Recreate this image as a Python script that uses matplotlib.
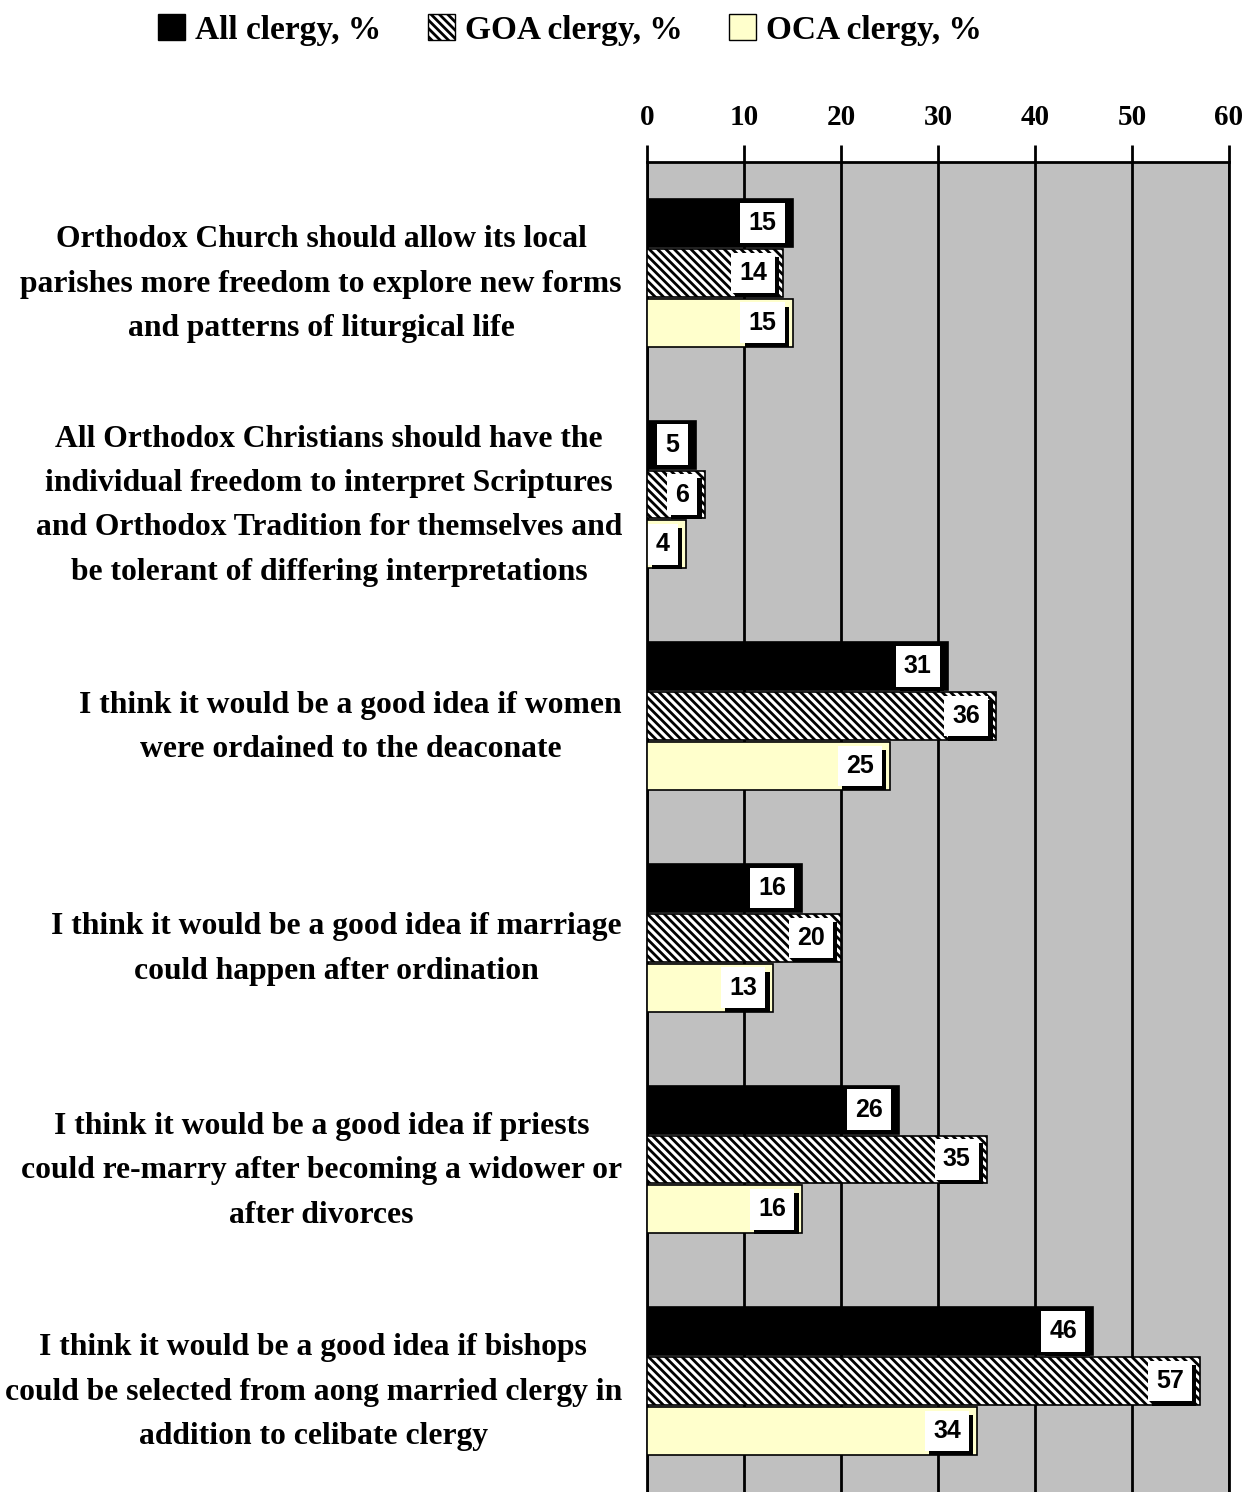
import numpy as np
import matplotlib
matplotlib.use('Agg')
import matplotlib.pyplot as plt
import matplotlib.patheffects as pe
from matplotlib.patches import Patch

categories = [
    "Orthodox Church should allow its local\nparishes more freedom to explore new forms\nand patterns of liturgical life",
    "All Orthodox Christians should have the\nindividual freedom to interpret Scriptures\nand Orthodox Tradition for themselves and\nbe tolerant of differing interpretations",
    "I think it would be a good idea if women\nwere ordained to the deaconate",
    "I think it would be a good idea if marriage\ncould happen after ordination",
    "I think it would be a good idea if priests\ncould re-marry after becoming a widower or\nafter divorces",
    "I think it would be a good idea if bishops\ncould be selected from aong married clergy in\naddition to celibate clergy",
]
all_clergy = [15, 5, 31, 16, 26, 46]
goa_clergy = [14, 6, 36, 20, 35, 57]
oca_clergy = [15, 4, 25, 13, 16, 34]
series_names = ["All clergy, %", "GOA clergy, %", "OCA clergy, %"]
xticks = [0, 10, 20, 30, 40, 50, 60]

serif = ['Liberation Serif', 'DejaVu Serif']
plt.rcParams['hatch.linewidth'] = 2.0

W, H = 1248, 1492
fig = plt.figure(figsize=(W / 100, H / 100), dpi=100)
ax = fig.add_axes([647 / W, 0, (1229 - 647) / W, (H - 162) / H])
ax.set_facecolor('#c0c0c0')

y = np.arange(len(categories))
bh = 0.216
off = 0.225
styles = [
    dict(color='black', edgecolor='black'),
    dict(color='white', edgecolor='black', hatch='\\\\\\\\'),
    dict(color='#ffffcc', edgecolor='black'),
]
for i, vals in enumerate([all_clergy, goa_clergy, oca_clergy]):
    ax.barh(y + (i - 1) * off, vals, height=bh, linewidth=1.2, zorder=3, **styles[i])
    for yy, v in zip(y + (i - 1) * off, vals):
        t = ax.annotate(str(v), xy=(v, yy), xytext=(-16, 0), textcoords='offset pixels',
                        ha='right', va='center', fontsize=18, fontweight='bold',
                        family='Liberation Sans', zorder=5,
                        bbox=dict(boxstyle='square,pad=0.33', fc='white', ec='none'))
        t.get_bbox_patch().set_path_effects([
            pe.SimplePatchShadow(offset=(3, -3), shadow_rgbFace='black', alpha=1),
            pe.Normal()])

ax.set_xlim(0, 60)
ax.set_ylim(5.5, -0.5)
ax.xaxis.tick_top()
ax.set_xticks(xticks)
ax.set_xticklabels([str(t) for t in xticks], fontsize=21, fontweight='bold', family=serif)
ax.tick_params(axis='x', direction='out', length=12, width=2, pad=10)
ax.grid(axis='x', color='black', linewidth=2, zorder=1)
ax.set_axisbelow(True)

ax.set_yticks(y)
ax.set_yticklabels(categories, fontsize=22.8, fontweight='bold', family=serif, linespacing=1.7)
for lab in ax.get_yticklabels():
    lab.set_multialignment('center')
ax.tick_params(axis='y', length=0, pad=18)

for s in ['top', 'left', 'right']:
    ax.spines[s].set_linewidth(2)
ax.spines['bottom'].set_visible(False)

handles = [Patch(facecolor=s['color'], edgecolor='black', hatch=s.get('hatch')) for s in styles]
fig.legend(handles, series_names, loc='center', bbox_to_anchor=(570 / W, 1 - 30 / H), ncol=3,
           frameon=False, handlelength=0.8, handleheight=0.8, handletextpad=0.3,
           columnspacing=1.4, prop=dict(family=serif, weight='bold', size=24))

fig.savefig('out.png', dpi=100)
